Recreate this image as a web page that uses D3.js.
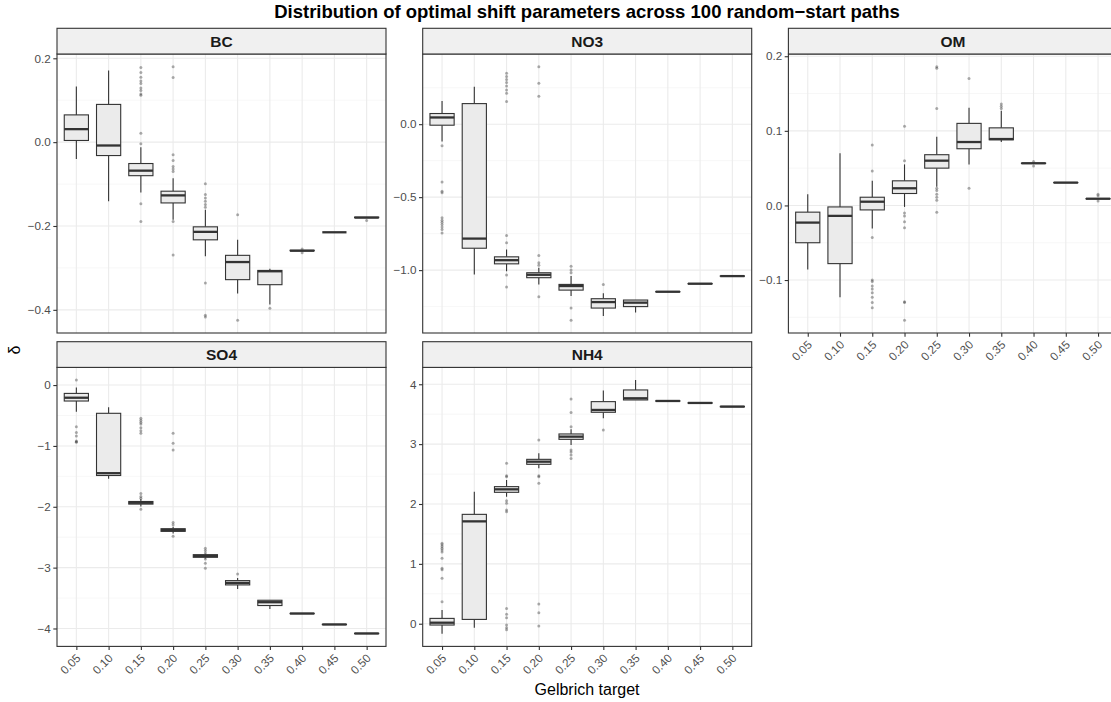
<!DOCTYPE html>
<html>
<head>
<meta charset="utf-8">
<script src="https://cdn.jsdelivr.net/npm/d3@7"></script>
<style>
  body { margin: 0; background: #fff; }
  svg { display: block; font-family: "Liberation Sans", Arial, Helvetica, sans-serif; }
</style>
</head>
<body>
<div id="chart"></div>
<script>
// categories
var targets = ["0.05", "0.10", "0.15", "0.20", "0.25", "0.30", "0.35", "0.40", "0.45", "0.50"];
var species = ["BC", "NO3", "OM", "SO4", "NH4"];

// box stats per target: [lower whisker, q1, median, q3, upper whisker]
var bcBox = [
  [-0.040, 0.004, 0.031, 0.065, 0.133],
  [-0.141, -0.032, -0.008, 0.090, 0.171],
  [-0.120, -0.080, -0.068, -0.051, -0.012],
  [-0.185, -0.145, -0.127, -0.117, -0.086],
  [-0.272, -0.233, -0.214, -0.202, -0.161],
  [-0.361, -0.328, -0.286, -0.270, -0.233],
  [-0.387, -0.340, -0.308, -0.306, -0.302],
  [-0.260, -0.259, -0.259, -0.258, -0.257],
  [-0.215, -0.215, -0.215, -0.215, -0.215],
  [-0.181, -0.180, -0.180, -0.179, -0.179]
];
var bcOut = [
  [], [],
  [0.178, 0.166, 0.155, 0.146, 0.140, 0.129, 0.123, 0.115, 0.112, 0.021, -0.004, -0.147, -0.189],
  [0.180, 0.154, -0.030, -0.044, -0.058, -0.064, -0.070, -0.189, -0.269],
  [-0.099, -0.125, -0.133, -0.141, -0.149, -0.155, -0.336, -0.413, -0.417],
  [-0.173, -0.425],
  [-0.396],
  [-0.255, -0.264],
  [],
  [-0.187]
];

var no3Box = [
  [-0.118, -0.007, 0.046, 0.073, 0.159],
  [-1.030, -0.850, -0.784, 0.141, 0.257],
  [-1.007, -0.957, -0.932, -0.909, -0.859],
  [-1.098, -1.052, -1.032, -1.018, -0.984],
  [-1.178, -1.137, -1.109, -1.098, -1.041],
  [-1.314, -1.260, -1.219, -1.196, -1.159],
  [-1.291, -1.250, -1.223, -1.205, -1.205],
  [-1.150, -1.149, -1.148, -1.147, -1.146],
  [-1.095, -1.094, -1.093, -1.092, -1.091],
  [-1.043, -1.042, -1.041, -1.040, -1.039]
];
var no3Out = [
  [-0.148, -0.396, -0.460, -0.470, -0.642, -0.658, -0.672, -0.688, -0.704, -0.722, -0.745],
  [],
  [0.349, 0.326, 0.307, 0.285, 0.262, 0.235, 0.212, 0.155, -0.763, -0.813, -1.034, -1.116],
  [0.394, 0.280, 0.191, -0.900, -0.950, -0.966, -1.182],
  [-0.973, -1.000, -1.018, -1.260, -1.344],
  [-1.098],
  [], [], [], []
];

var omBox = [
  [-0.086, -0.050, -0.023, -0.009, 0.015],
  [-0.123, -0.078, -0.014, -0.002, 0.070],
  [-0.031, -0.006, 0.005, 0.011, 0.033],
  [-0.002, 0.016, 0.023, 0.033, 0.055],
  [0.025, 0.050, 0.060, 0.068, 0.092],
  [0.055, 0.076, 0.085, 0.110, 0.131],
  [0.085, 0.088, 0.089, 0.104, 0.127],
  [0.0560, 0.0563, 0.0565, 0.0567, 0.0570],
  [0.0303, 0.0305, 0.0306, 0.0307, 0.0309],
  [0.0087, 0.0089, 0.0090, 0.0091, 0.0093]
];
var omOut = [
  [], [],
  [0.081, 0.046, -0.043, -0.100, -0.102, -0.108, -0.112, -0.117, -0.123, -0.130, -0.137],
  [0.106, 0.060, -0.010, -0.014, -0.022, -0.030, -0.129, -0.130, -0.154],
  [0.186, 0.184, 0.130, 0.023, 0.020, 0.015, 0.011, 0.007, -0.009],
  [0.170, 0.023],
  [0.136, 0.133, 0.130],
  [0.059, 0.053],
  [],
  [0.015, 0.013, 0.006]
];

var so4Box = [
  [-0.437, -0.262, -0.208, -0.137, -0.038],
  [-1.541, -1.486, -1.448, -0.464, -0.366],
  [-1.995, -1.956, -1.934, -1.913, -1.874],
  [-2.440, -2.404, -2.383, -2.360, -2.330],
  [-2.850, -2.830, -2.809, -2.787, -2.770],
  [-3.350, -3.284, -3.251, -3.213, -3.170],
  [-3.678, -3.623, -3.568, -3.536, -3.536],
  [-3.760, -3.756, -3.754, -3.752, -3.748],
  [-3.938, -3.936, -3.934, -3.932, -3.930],
  [-4.086, -4.084, -4.082, -4.080, -4.078]
];
var so4Out = [
  [0.082, -0.683, -0.780, -0.836, -0.918, -0.930, -0.940],
  [],
  [-0.546, -0.580, -0.610, -0.640, -0.700, -0.750, -0.790, -1.780, -1.830, -1.860, -2.040],
  [-0.790, -0.956, -1.066, -2.257, -2.295, -2.486],
  [-2.680, -2.720, -2.760, -2.860, -2.930, -3.010],
  [-3.104],
  [], [], [], []
];

var nh4Box = [
  [-0.167, -0.022, 0.017, 0.089, 0.228],
  [-0.067, 0.072, 1.710, 1.827, 2.206],
  [2.120, 2.195, 2.245, 2.290, 2.400],
  [2.596, 2.663, 2.707, 2.746, 2.847],
  [2.986, 3.080, 3.125, 3.170, 3.248],
  [3.432, 3.532, 3.571, 3.710, 3.894],
  [3.738, 3.738, 3.766, 3.905, 4.070],
  [3.715, 3.718, 3.721, 3.724, 3.727],
  [3.682, 3.685, 3.688, 3.691, 3.694],
  [3.621, 3.624, 3.627, 3.630, 3.633]
];
var nh4Out = [
  [1.343, 1.320, 1.290, 1.260, 1.231, 1.200, 1.092, 0.925, 0.900, 0.758, 0.368],
  [],
  [2.680, 2.470, 2.455, 2.056, 2.011, 1.900, 1.872, 0.256, 0.160, 0.100, -0.020, -0.067, -0.100],
  [3.070, 2.470, 2.455, 2.345, 0.330, 0.184, -0.040],
  [3.755, 3.527, 3.290, 2.900, 2.870, 2.820, 2.760],
  [3.237],
  [], [], [], []
];

// y tick values per panel
var bcTicks = [0.2, 0.0, -0.2, -0.4];
var no3Ticks = [0.0, -0.5, -1.0];
var omTicks = [0.2, 0.1, 0.0, -0.1];
var so4Ticks = [0, -1, -2, -3, -4];
var nh4Ticks = [0, 1, 2, 3, 4];

var panels = [
  {name: "BC",  box: bcBox,  out: bcOut,  ticks: bcTicks,  fmt: ".1f", col: 0, row: 0, xaxis: false},
  {name: "NO3", box: no3Box, out: no3Out, ticks: no3Ticks, fmt: ".1f", col: 1, row: 0, xaxis: false},
  {name: "OM",  box: omBox,  out: omOut,  ticks: omTicks,  fmt: ".1f", col: 2, row: 0, xaxis: true},
  {name: "SO4", box: so4Box, out: so4Out, ticks: so4Ticks, fmt: "d",   col: 0, row: 1, xaxis: true},
  {name: "NH4", box: nh4Box, out: nh4Out, ticks: nh4Ticks, fmt: "d",   col: 1, row: 1, xaxis: true}
];

var width = 1111, height = 702;
var colX = [57, 422.7, 788.4], rowY = [28.3, 341.7];
var panelW = 329, panelH = 279, stripH = 25.7;
var ink = "#333333";

var svg = d3.select("#chart").append("svg")
  .attr("width", width)
  .attr("height", height);

var x = d3.scalePoint().domain(targets).range([0, panelW]).padding(0.6);
var boxW = x.step() * 0.75;

panels.forEach(function(p){
  var all = [];
  p.box.forEach(function(b){ all = all.concat(b); });
  p.out.forEach(function(o){ all = all.concat(o); });
  var ext = d3.extent(all), pad = (ext[1] - ext[0]) * 0.05;
  var y = d3.scaleLinear().domain([ext[0] - pad, ext[1] + pad]).range([panelH, 0]);

  var step = Math.abs(p.ticks[1] - p.ticks[0]);
  var lo = d3.min(p.ticks), hi = d3.max(p.ticks);
  var minor = d3.range(lo - step / 2, hi + step, step).filter(function(v){
    return v >= y.domain()[0] && v <= y.domain()[1];
  });

  var g = svg.append("g")
    .attr("transform", "translate(" + colX[p.col] + "," + (rowY[p.row] + stripH) + ")");

  g.append("rect").attr("width", panelW).attr("height", panelH).attr("fill", "#fff");

  g.selectAll("line.minor").data(minor).enter().append("line")
    .attr("class", "minor")
    .attr("x1", 0).attr("x2", panelW)
    .attr("y1", function(d){ return y(d); }).attr("y2", function(d){ return y(d); })
    .attr("stroke", "#f2f2f2").attr("stroke-width", 0.6);

  g.selectAll("line.majy").data(p.ticks).enter().append("line")
    .attr("class", "majy")
    .attr("x1", 0).attr("x2", panelW)
    .attr("y1", function(d){ return y(d); }).attr("y2", function(d){ return y(d); })
    .attr("stroke", "#ebebeb").attr("stroke-width", 1.1);

  g.selectAll("line.majx").data(targets).enter().append("line")
    .attr("class", "majx")
    .attr("x1", function(d){ return x(d); }).attr("x2", function(d){ return x(d); })
    .attr("y1", 0).attr("y2", panelH)
    .attr("stroke", "#ebebeb").attr("stroke-width", 1.1);

  // outliers
  var pts = [];
  p.out.forEach(function(o, i){ o.forEach(function(v){ pts.push({t: targets[i], v: v}); }); });
  g.selectAll("circle").data(pts).enter().append("circle")
    .attr("cx", function(d){ return x(d.t); })
    .attr("cy", function(d){ return y(d.v); })
    .attr("r", 1.5)
    .attr("fill", "#333").attr("fill-opacity", 0.4);

  var boxes = g.selectAll("g.box").data(p.box.map(function(b, i){ return {t: targets[i], s: b}; }))
    .enter().append("g").attr("class", "box")
    .attr("transform", function(d){ return "translate(" + x(d.t) + ",0)"; });

  boxes.append("line")
    .attr("y1", function(d){ return y(d.s[0]); }).attr("y2", function(d){ return y(d.s[1]); })
    .attr("stroke", ink).attr("stroke-width", 1.1);
  boxes.append("line")
    .attr("y1", function(d){ return y(d.s[3]); }).attr("y2", function(d){ return y(d.s[4]); })
    .attr("stroke", ink).attr("stroke-width", 1.1);
  boxes.append("rect")
    .attr("x", -boxW / 2).attr("width", boxW)
    .attr("y", function(d){ return y(d.s[3]); })
    .attr("height", function(d){ return y(d.s[1]) - y(d.s[3]); })
    .attr("fill", "#ebebeb").attr("stroke", ink).attr("stroke-width", 1.1);
  boxes.append("line")
    .attr("x1", -boxW / 2).attr("x2", boxW / 2)
    .attr("y1", function(d){ return y(d.s[2]); }).attr("y2", function(d){ return y(d.s[2]); })
    .attr("stroke", ink).attr("stroke-width", 2.3);

  g.append("rect").attr("width", panelW).attr("height", panelH)
    .attr("fill", "none").attr("stroke", ink).attr("stroke-width", 1.1);

  // strip
  var strip = g.append("g").attr("transform", "translate(0," + (-stripH) + ")");
  strip.append("rect").attr("width", panelW).attr("height", stripH)
    .attr("fill", "#f0f0f0").attr("stroke", ink).attr("stroke-width", 1.1);
  strip.append("text")
    .attr("x", panelW / 2).attr("y", stripH / 2).attr("dy", "0.36em")
    .attr("text-anchor", "middle")
    .attr("font-size", 15.5).attr("font-weight", "bold").attr("fill", "#1a1a1a")
    .text(p.name);

  // y axis
  var yAxis = g.append("g")
    .call(d3.axisLeft(y).tickValues(p.ticks).tickFormat(d3.format(p.fmt)).tickSize(3.7).tickPadding(2.5));
  yAxis.select(".domain").remove();
  yAxis.selectAll(".tick line").attr("stroke", ink).attr("stroke-width", 1.1);
  yAxis.selectAll(".tick text")
    .attr("fill", "#4d4d4d").attr("font-size", 11.7)
    .attr("font-family", "Liberation Sans, Arial, sans-serif");

  if (p.xaxis) {
    var xAxis = g.append("g").attr("transform", "translate(0," + panelH + ")")
      .call(d3.axisBottom(x).tickSize(3.7).tickFormat(""));
    xAxis.select(".domain").remove();
    xAxis.selectAll(".tick line").attr("stroke", ink).attr("stroke-width", 1.1);
    xAxis.selectAll("text.xlab").data(targets).enter().append("text")
      .attr("class", "xlab")
      .attr("transform", function(d){ return "translate(" + (x(d) + 5) + ",12.5) rotate(-45)"; })
      .attr("text-anchor", "end")
      .attr("fill", "#4d4d4d").attr("font-size", 11.7)
      .attr("font-family", "Liberation Sans, Arial, sans-serif")
      .text(function(d){ return d; });
  }
});

svg.append("text")
  .attr("x", 587).attr("y", 18)
  .attr("text-anchor", "middle")
  .attr("font-size", 18.5).attr("font-weight", "bold").attr("fill", "#000")
  .text("Distribution of optimal shift parameters across 100 random\u2212start paths");

svg.append("text")
  .attr("x", 587).attr("y", 695)
  .attr("text-anchor", "middle")
  .attr("font-size", 16).attr("fill", "#000")
  .text("Gelbrich target");

svg.append("text")
  .attr("transform", "translate(19.5,350) rotate(-90)")
  .attr("text-anchor", "middle")
  .attr("font-size", 16).attr("fill", "#000")
  .text("\u03b4");
</script>
</body>
</html>
